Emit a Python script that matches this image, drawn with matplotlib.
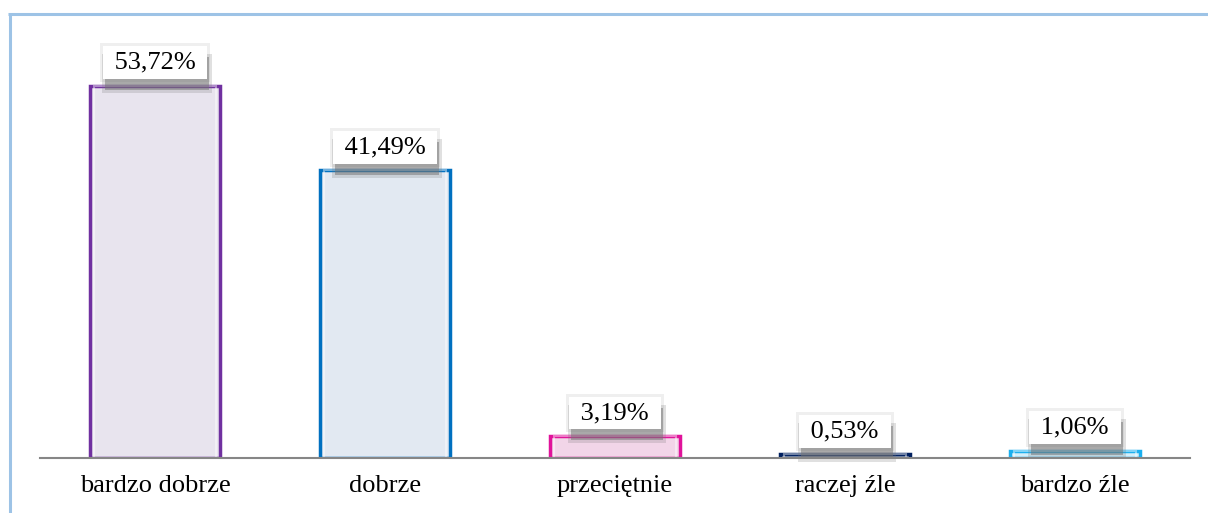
import matplotlib
matplotlib.use("Agg")
import matplotlib.pyplot as plt
from matplotlib.lines import Line2D
from matplotlib.patches import Rectangle
from matplotlib.transforms import IdentityTransform

categories = ["bardzo dobrze", "dobrze", "przeciętnie", "raczej źle", "bardzo źle"]
values = [53.72, 41.49, 3.19, 0.53, 1.06]
labels = ["53,72%", "41,49%", "3,19%", "0,53%", "1,06%"]

edge_colors = ["#7030A0", "#0070C0", "#E0129A", "#002060", "#1AAFEF"]
fill_colors = ["#E8E4EE", "#E2E9F2", "#F2D5E8", "#D0D4DE", "#D4EEFA"]

plt.rcParams["font.family"] = ["Liberation Serif", "DejaVu Serif"]

W, H = 1208, 513
fig = plt.figure(figsize=(W / 100, H / 100), dpi=100)
ax = fig.add_axes([40 / W, 55 / H, 1150 / W, 416 / H])

x = range(len(categories))
ax.bar(x, values, width=0.565, color=fill_colors, edgecolor=edge_colors,
       linewidth=2.5, zorder=2)
# lighter inner band along the bar outline
ax.bar(x, values, width=0.53, color="none", edgecolor="white",
       linewidth=1.5, alpha=0.45, zorder=2)

FS = 19
value_texts = []
for xi, v, lab in zip(x, values, labels):
    t = ax.annotate(" " + lab + " ", xy=(xi, v), xytext=(0, 16.5),
                    textcoords="offset points", ha="center", va="center",
                    fontsize=FS, color="black", zorder=4,
                    bbox=dict(boxstyle="square,pad=0.2", fc="white", ec="none"))
    value_texts.append(t)

ax.set_xlim(-0.5, 4.5)
ax.set_ylim(0, 60)
ax.set_xticks(list(x))
ax.set_xticklabels(categories, fontsize=FS)
ax.tick_params(axis="x", length=0, pad=12)
ax.set_yticks([])
for side in ["top", "right", "left"]:
    ax.spines[side].set_visible(False)
ax.spines["bottom"].set_color("#868686")
ax.spines["bottom"].set_linewidth(1.5)
ax.spines["bottom"].set_zorder(3)

# soft halo + drop shadow behind each value box (pixel coordinates)
fig.canvas.draw()
renderer = fig.canvas.get_renderer()
for t in value_texts:
    bb = t.get_bbox_patch().get_window_extent(renderer)
    shade = [
        (0, 0, 3, (0.5, 0.5, 0.5, 0.12)),
        (2, -11, 3, (0.45, 0.45, 0.45, 0.22)),
        (2, -11, 0, (0.45, 0.45, 0.45, 0.5)),
    ]
    for dx, dy, grow, col in shade:
        ax.add_patch(Rectangle((bb.x0 + dx - grow, bb.y0 + dy - grow),
                               bb.width + 2 * grow, bb.height + 2 * grow,
                               transform=IdentityTransform(), fc=col, ec="none",
                               zorder=3, clip_on=False))

# light blue frame along top and left
frame_color = "#9DC3E6"
fig.add_artist(Line2D([9.5 / W, 9.5 / W], [0, 1 - 12.5 / H], color=frame_color,
                      linewidth=2.2, solid_capstyle="butt",
                      transform=fig.transFigure))
fig.add_artist(Line2D([8 / W, 1], [1 - 13.5 / H, 1 - 13.5 / H], color=frame_color,
                      linewidth=2.2, solid_capstyle="butt",
                      transform=fig.transFigure))

fig.savefig("out.png", dpi=100)
